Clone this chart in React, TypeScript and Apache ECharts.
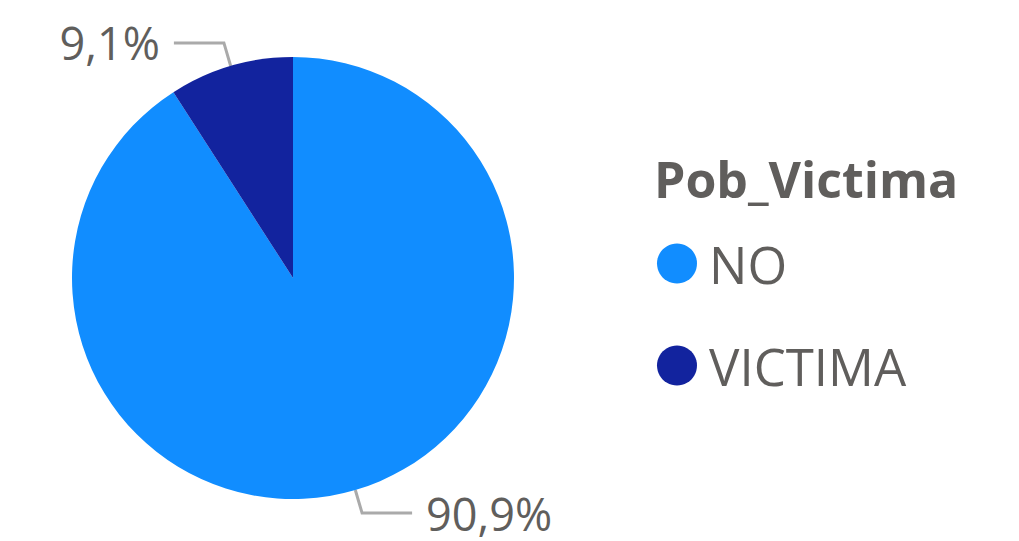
import React, { useEffect, useRef } from "react";
import * as echarts from "echarts";

const categories = ["NO", "VICTIMA"];
const values = [90.9, 9.1];
const colors = ["#118DFF", "#12239E"];
const legendTitle = "Pob_Victima";

export default function App() {
  const ref = useRef<HTMLDivElement>(null);
  useEffect(() => {
    if (!ref.current) return;
    const chart = echarts.init(ref.current, null, { renderer: "svg" });
    const font = "'Open Sans', 'Noto Sans', sans-serif";
    chart.setOption({
      animation: false,
      backgroundColor: "#ffffff",
      title: {
        text: legendTitle,
        left: 649,
        top: 149,
        textStyle: { fontFamily: font, fontWeight: "bold", fontSize: 50, color: "#605E5C" },
      },
      legend: {
        orient: "vertical",
        left: 652,
        top: 233,
        icon: "circle",
        itemWidth: 40,
        itemHeight: 40,
        itemGap: 51,
        data: categories,
        textStyle: {
          fontFamily: font,
          fontSize: 51,
          lineHeight: 50,
          color: "#605E5C",
          padding: [0, 0, 0, 7],
        },
      },
      series: [
        {
          type: "pie",
          center: [293, 278],
          radius: [0, 221],
          startAngle: 90,
          clockwise: true,
          avoidLabelOverlap: false,
          data: categories.map((c, i) => ({
            name: c,
            value: values[i],
            itemStyle: { color: colors[i] },
          })),
          label: {
            show: true,
            position: "outside",
            formatter: (p: any) => p.value.toFixed(1).replace(".", ",") + "%",
            fontFamily: font,
            fontSize: 45,
            color: "#605E5C",
            distanceToLabelLine: 14,
          },
          labelLine: {
            show: true,
            length: 24,
            length2: 50,
            lineStyle: { color: "#AAAAAA", width: 3 },
          },
        },
      ],
    });
    return () => chart.dispose();
  }, []);
  return (
    <div
      ref={ref}
      style={{ position: "fixed", left: 0, top: 0, width: 1019, height: 541 }}
    />
  );
}
